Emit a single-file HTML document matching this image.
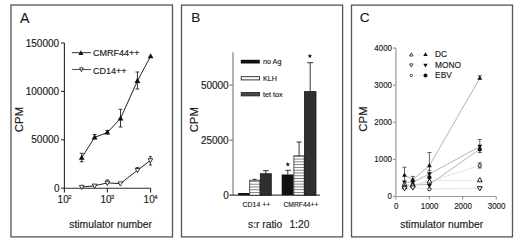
<!DOCTYPE html>
<html><head><meta charset="utf-8">
<style>
html,body{margin:0;padding:0;background:#fff;width:520px;height:244px;overflow:hidden}
svg{display:block}
text{font-family:"Liberation Sans",sans-serif;fill:#1a1a1a;stroke:#1a1a1a;stroke-width:0.15px}
</style></head>
<body>
<svg width="520" height="244" viewBox="0 0 520 244">
<defs>
<path id="tu" d="M0,-3.1 L2.9,2 L-2.9,2 Z"/>
<path id="td" d="M0,2.5 L2.3,-1.7 L-2.3,-1.7 Z"/>
</defs>
<!-- Panel borders -->
<g fill="none" stroke="#555" stroke-width="1.3">
<rect x="11" y="5" width="161.5" height="231.9"/>
<rect x="181.5" y="5.1" width="161.1" height="231.8"/>
<rect x="351.5" y="5.1" width="161" height="231.8"/>
</g>

<!-- ================= PANEL A ================= -->
<text x="19.9" y="22.6" font-size="14.2">A</text>
<g stroke="#2a2a2a" stroke-width="1.1" fill="none">
<line x1="64.4" y1="43" x2="64.4" y2="192.4"/>
<line x1="61.1" y1="43" x2="64.4" y2="43"/>
<line x1="61.1" y1="91.4" x2="64.4" y2="91.4"/>
<line x1="61.1" y1="139.8" x2="64.4" y2="139.8"/>
<line x1="61.1" y1="188.2" x2="64.4" y2="188.2"/>
<line x1="64.4" y1="188.2" x2="150.6" y2="188.2"/>
<line x1="107.4" y1="188.2" x2="107.4" y2="192.4"/>
<line x1="150.6" y1="188.2" x2="150.6" y2="192.4"/>
</g>
<g font-size="10" text-anchor="end">
<text x="59.1" y="46.6">150000</text>
<text x="59.1" y="95">100000</text>
<text x="59.1" y="143.4">50000</text>
<text x="59.6" y="191.8">0</text>
</g>
<g font-size="10">
<text x="57.6" y="202.6">10</text>
<text x="100.4" y="202.6">10</text>
<text x="143.6" y="202.6">10</text>
</g>
<g font-size="5.8">
<text x="68.2" y="199">2</text>
<text x="111" y="199">3</text>
<text x="154.2" y="199">4</text>
</g>
<text x="110.6" y="227.8" font-size="10.35" text-anchor="middle">stimulator number</text>
<text transform="translate(22.7,119.5) rotate(-90)" font-size="11.4" text-anchor="middle">CPM</text>
<!-- legend A -->
<line x1="71.8" y1="52.7" x2="91" y2="52.7" stroke="#1a1a1a" stroke-width="0.9"/>
<line x1="71.8" y1="69.5" x2="91" y2="69.5" stroke="#555" stroke-width="1.1"/>
<path d="M80.9,50.2 L83.4,54.9 L78.4,54.9 Z" fill="#111"/>
<path d="M81.4,71.7 L83.2,67.9 L79.6,67.9 Z" fill="#fff" stroke="#222" stroke-width="0.9"/>
<g font-size="9">
<text x="93" y="56.3">CMRF44++</text>
<text x="93" y="74">CD14++</text>
</g>
<!-- data CMRF44 -->
<polyline points="81.7,157.8 94.6,137.4 107.3,132.6 120.5,118.5 137.4,80.9 150.6,56.3" fill="none" stroke="#222" stroke-width="1"/>
<g stroke="#222" stroke-width="0.9">
<line x1="81.7" y1="153.3" x2="81.7" y2="161.8"/><line x1="79.8" y1="153.3" x2="83.6" y2="153.3"/><line x1="79.8" y1="161.8" x2="83.6" y2="161.8"/>
<line x1="94.7" y1="134.5" x2="94.7" y2="139.3"/><line x1="92.8" y1="134.5" x2="96.6" y2="134.5"/>
<line x1="107.3" y1="130.5" x2="107.3" y2="134.7"/><line x1="105.4" y1="130.5" x2="109.2" y2="130.5"/>
<line x1="120.5" y1="109.3" x2="120.5" y2="127"/><line x1="118.6" y1="109.3" x2="122.4" y2="109.3"/><line x1="118.6" y1="127" x2="122.4" y2="127"/>
<line x1="137.4" y1="72" x2="137.4" y2="89"/><line x1="135.5" y1="72" x2="139.3" y2="72"/><line x1="135.5" y1="89" x2="139.3" y2="89"/>
</g>
<g fill="#111">
<use href="#tu" x="81.7" y="157.8"/><use href="#tu" x="94.6" y="137.4"/><use href="#tu" x="107.3" y="132.6"/>
<use href="#tu" x="120.5" y="118.5"/><use href="#tu" x="137.4" y="80.9"/><use href="#tu" x="150.6" y="56.3"/>
</g>
<!-- data CD14 -->
<polyline points="81.7,187 94.6,185.8 107.3,182.9 120.4,183.6 137.5,170.2 150.4,160.4" fill="none" stroke="#222" stroke-width="1"/>
<g stroke="#222" stroke-width="0.9">
<line x1="107.3" y1="180" x2="107.3" y2="185.6"/><line x1="105.5" y1="180" x2="109.1" y2="180"/>
<line x1="137.5" y1="167.6" x2="137.5" y2="172.6"/><line x1="135.7" y1="167.6" x2="139.3" y2="167.6"/>
<line x1="150.4" y1="156.6" x2="150.4" y2="165"/><line x1="148.9" y1="156.6" x2="151.9" y2="156.6"/><line x1="148.9" y1="165" x2="151.9" y2="165"/>
</g>
<g fill="#fff" stroke="#222" stroke-width="0.9">
<use href="#td" x="81.7" y="187"/><use href="#td" x="94.6" y="185.8"/><use href="#td" x="107.3" y="182.9"/>
<use href="#td" x="120.4" y="183.6"/><use href="#td" x="137.5" y="170.2"/><use href="#td" x="150.4" y="160.4"/>
</g>

<!-- ================= PANEL B ================= -->
<text x="191.2" y="22.3" font-size="13.6">B</text>
<g stroke="#8a8a8a" stroke-width="1.3" fill="none">
<line x1="233" y1="52.2" x2="233" y2="195.2"/>
<line x1="229.4" y1="85.2" x2="233" y2="85.2"/>
<line x1="229.4" y1="140.2" x2="233" y2="140.2"/>
</g>
<g stroke="#444" stroke-width="1.2" fill="none">
<line x1="229.4" y1="195.2" x2="320" y2="195.2"/>
</g>
<g font-size="10" text-anchor="end">
<text x="228.7" y="88.6">50000</text>
<text x="228.7" y="143.6">25000</text>
<text x="228.7" y="198.6">0</text>
</g>
<text transform="translate(197.5,119.7) rotate(-90)" font-size="11.4" text-anchor="middle">CPM</text>
<!-- legend B -->
<rect x="240.8" y="59.8" width="19" height="3.7" fill="#111"/>
<rect x="241.2" y="76.7" width="18.4" height="3.2" fill="#fff" stroke="#222" stroke-width="0.9"/>
<rect x="241.2" y="92.6" width="18.4" height="3.3" fill="#4a4a4a" stroke="#1a1a1a" stroke-width="0.8"/>
<g font-size="7.2">
<text x="263" y="64.4">no Ag</text>
<text x="263" y="80.9">KLH</text>
<text x="263" y="97.2">tet tox</text>
</g>
<!-- bars -->
<defs>
<pattern id="hs1" patternUnits="userSpaceOnUse" width="4" height="2.8" x="0" y="180.9">
<rect width="4" height="2.8" fill="#fff"/>
<rect y="0" width="4" height="0.95" fill="#7c7c7c"/>
</pattern>
<pattern id="hs2" patternUnits="userSpaceOnUse" width="4" height="2.78" x="0" y="158.6">
<rect width="4" height="2.78" fill="#fff"/>
<rect y="0" width="4" height="0.95" fill="#7c7c7c"/>
</pattern>
</defs>
<rect x="238.2" y="193" width="11.1" height="2.3" fill="#111"/>
<rect x="249.7" y="180.2" width="10.2" height="15" fill="url(#hs1)" stroke="#2a2a2a" stroke-width="0.8"/>
<rect x="260.3" y="173.7" width="11" height="21.5" fill="#2f2f2f" stroke="#181818" stroke-width="0.8"/>
<rect x="281.7" y="174.5" width="11.8" height="20.8" fill="#111"/>
<rect x="293.9" y="155.8" width="10.3" height="39.4" fill="url(#hs2)" stroke="#2a2a2a" stroke-width="0.8"/>
<rect x="304.5" y="91.6" width="11.5" height="103.6" fill="#2f2f2f" stroke="#181818" stroke-width="0.8"/>
<g stroke="#222" stroke-width="0.9">
<line x1="254.6" y1="179.3" x2="254.6" y2="180.5"/><line x1="252.6" y1="179.3" x2="256.6" y2="179.3"/>
<line x1="265.9" y1="170.7" x2="265.9" y2="173.5"/><line x1="263" y1="170.7" x2="268.8" y2="170.7"/>
<line x1="287.8" y1="170.3" x2="287.8" y2="174.6"/><line x1="285.4" y1="170.3" x2="291.1" y2="170.3"/>
<line x1="299.1" y1="142" x2="299.1" y2="156.2"/><line x1="296.6" y1="142" x2="301.6" y2="142"/>
<line x1="310.2" y1="62.7" x2="310.2" y2="91.4"/><line x1="307.2" y1="62.7" x2="313.4" y2="62.7"/>
</g>
<polygon points="287.80,162.10 288.39,163.59 289.99,163.69 288.75,164.71 289.15,166.26 287.80,165.40 286.45,166.26 286.85,164.71 285.61,163.69 287.21,163.59" fill="#111"/>
<polygon points="309.90,53.80 310.49,55.29 312.09,55.39 310.85,56.41 311.25,57.96 309.90,57.10 308.55,57.96 308.95,56.41 307.71,55.39 309.31,55.29" fill="#111"/>
<g font-size="7.8">
<text x="242.6" y="206.6" textLength="27.6" lengthAdjust="spacingAndGlyphs">CD14 ++</text>
<text x="283.4" y="206.6" textLength="35" lengthAdjust="spacingAndGlyphs">CMRF44++</text>
</g>
<text x="248" y="228" font-size="10.3">s:r ratio<tspan x="289.4">1:20</tspan></text>

<!-- ================= PANEL C ================= -->
<text x="359.8" y="22.3" font-size="13.6">C</text>
<g stroke="#999" stroke-width="1.2" fill="none">
<line x1="395.9" y1="48.1" x2="395.9" y2="199.6"/>
<line x1="393" y1="48.1" x2="395.9" y2="48.1"/>
<line x1="393" y1="85.2" x2="395.9" y2="85.2"/>
<line x1="393" y1="122.3" x2="395.9" y2="122.3"/>
<line x1="393" y1="159.4" x2="395.9" y2="159.4"/>
<line x1="393" y1="196.5" x2="395.9" y2="196.5"/>
<line x1="395.9" y1="196.5" x2="496.3" y2="196.5"/>
<line x1="429.3" y1="196.5" x2="429.3" y2="199.6"/>
<line x1="462.7" y1="196.5" x2="462.7" y2="199.6"/>
<line x1="496.3" y1="196.5" x2="496.3" y2="199.6"/>
</g>
<g font-size="8.4" text-anchor="end" transform="translate(392,0) scale(0.945,1)">
<text x="0" y="50.6">4000</text>
<text x="0" y="87.7">3000</text>
<text x="0" y="124.8">2000</text>
<text x="0" y="161.9">1000</text>
<text x="0" y="199">0</text>
</g>
<g font-size="8.4" text-anchor="middle">
<text transform="translate(396.2,0) scale(0.945,1)" y="209">0</text>
<text transform="translate(429.6,0) scale(0.945,1)" y="209">1000</text>
<text transform="translate(463,0) scale(0.945,1)" y="209">2000</text>
<text transform="translate(496.6,0) scale(0.945,1)" y="209">3000</text>
</g>
<text x="441.7" y="227.9" font-size="10.35" text-anchor="middle">stimulator number</text>
<text transform="translate(367.3,119) rotate(-90)" font-size="11.4" text-anchor="middle">CPM</text>
<defs>
<path id="stu" d="M0,-2.6 L2.4,1.6 L-2.4,1.6 Z"/>
<path id="std" d="M0,2.6 L2.4,-1.6 L-2.4,-1.6 Z"/>
</defs>
<!-- legend C -->
<g stroke="#e2e2e2" stroke-width="0.6">
<line x1="415" y1="54.6" x2="423" y2="54.6"/>
<line x1="415" y1="65.3" x2="423" y2="65.3"/>
<line x1="415" y1="75.5" x2="423" y2="75.5"/>
</g>
<path d="M411.3,52.8 L413.1,56 L409.5,56 Z" fill="#fff" stroke="#333" stroke-width="0.9"/>
<path d="M425.5,52.3 L427.7,56.1 L423.3,56.1 Z" fill="#111"/>
<path d="M411.3,67.1 L413.1,63.9 L409.5,63.9 Z" fill="#fff" stroke="#333" stroke-width="0.9"/>
<path d="M425.5,67.6 L427.7,63.8 L423.3,63.8 Z" fill="#111"/>
<circle cx="411.3" cy="75.5" r="1.2" fill="#fff" stroke="#333" stroke-width="0.9"/>
<circle cx="425.5" cy="75.5" r="2" fill="#111"/>
<g font-size="8.3">
<text x="435.1" y="57.3">DC</text>
<text x="435.1" y="67.9">MONO</text>
<text x="435.1" y="77.7">EBV</text>
</g>
<!-- C lines -->
<g fill="none" stroke="#8c8c8c" stroke-width="0.65">
<polyline points="404.5,175.1 412.8,179.7 429.4,165.6 479.8,78.2"/>
<polyline points="404.5,182 412.8,182.3 429.4,174 479.8,146.5"/>
<polyline points="404.5,185.6 412.8,184.9 429.4,184.5 479.8,149.2"/>
</g>
<g fill="none" stroke="#d0d0d0" stroke-width="0.6">
<polyline points="404.5,184.5 412.8,186 429.4,181.5 479.8,165.5"/>
<polyline points="404.5,187 412.8,185.5 429.4,180.5 479.8,180.2"/>
<polyline points="404.5,188.2 412.8,187.5 429.4,189 479.8,188.3"/>
</g>
<!-- C error bars -->
<g stroke="#222" stroke-width="0.7">
<line x1="404.5" y1="167.2" x2="404.5" y2="186"/><line x1="402.5" y1="167.2" x2="406.5" y2="167.2"/>
<line x1="412.8" y1="176.4" x2="412.8" y2="188"/><line x1="410.8" y1="176.4" x2="414.8" y2="176.4"/>
<line x1="429.4" y1="152.5" x2="429.4" y2="186"/><line x1="427.4" y1="152.5" x2="431.4" y2="152.5"/><line x1="427.6" y1="170.4" x2="431.2" y2="170.4"/>
<line x1="479.8" y1="75.7" x2="479.8" y2="80"/><line x1="477.8" y1="75.7" x2="481.8" y2="75.7"/>
<line x1="479.8" y1="139.5" x2="479.8" y2="152.5"/><line x1="477.8" y1="139.5" x2="481.8" y2="139.5"/><line x1="477.8" y1="152.5" x2="481.8" y2="152.5"/>
<line x1="479.8" y1="162.8" x2="479.8" y2="168"/><line x1="477.8" y1="162.8" x2="481.8" y2="162.8"/><line x1="477.8" y1="168" x2="481.8" y2="168"/>
</g>
<!-- C markers -->
<g fill="#111">
<use href="#stu" x="404.5" y="175.1"/><use href="#stu" x="412.8" y="179.7"/><use href="#stu" x="429.4" y="165.6"/><use href="#stu" x="479.8" y="78.2"/>
<use href="#std" x="404.5" y="182"/><use href="#std" x="412.8" y="182.3"/><use href="#std" x="429.4" y="173.9"/><use href="#std" x="479.8" y="146.3"/><use href="#std" x="429.4" y="185.7"/>
<circle cx="404.5" cy="185.6" r="2.1"/><circle cx="412.8" cy="184.9" r="2.1"/><circle cx="429.4" cy="177.4" r="2.1"/><circle cx="479.8" cy="149.4" r="2.1"/>
</g>
<g fill="#fff" stroke="#1a1a1a" stroke-width="1">
<circle cx="404.5" cy="184.5" r="1.6"/><circle cx="412.8" cy="186" r="1.6"/><circle cx="429.4" cy="189.2" r="1.6"/><circle cx="479.8" cy="165.5" r="1.6"/>
<use href="#stu" x="404.5" y="187"/><use href="#stu" x="412.8" y="185.5"/><use href="#stu" x="429.4" y="181.5"/><use href="#stu" x="479.8" y="180.2"/>
<use href="#std" x="404.5" y="188.2"/><use href="#std" x="412.8" y="187.5"/><use href="#std" x="479.8" y="188.3"/>
</g>
</svg>
</body></html>
